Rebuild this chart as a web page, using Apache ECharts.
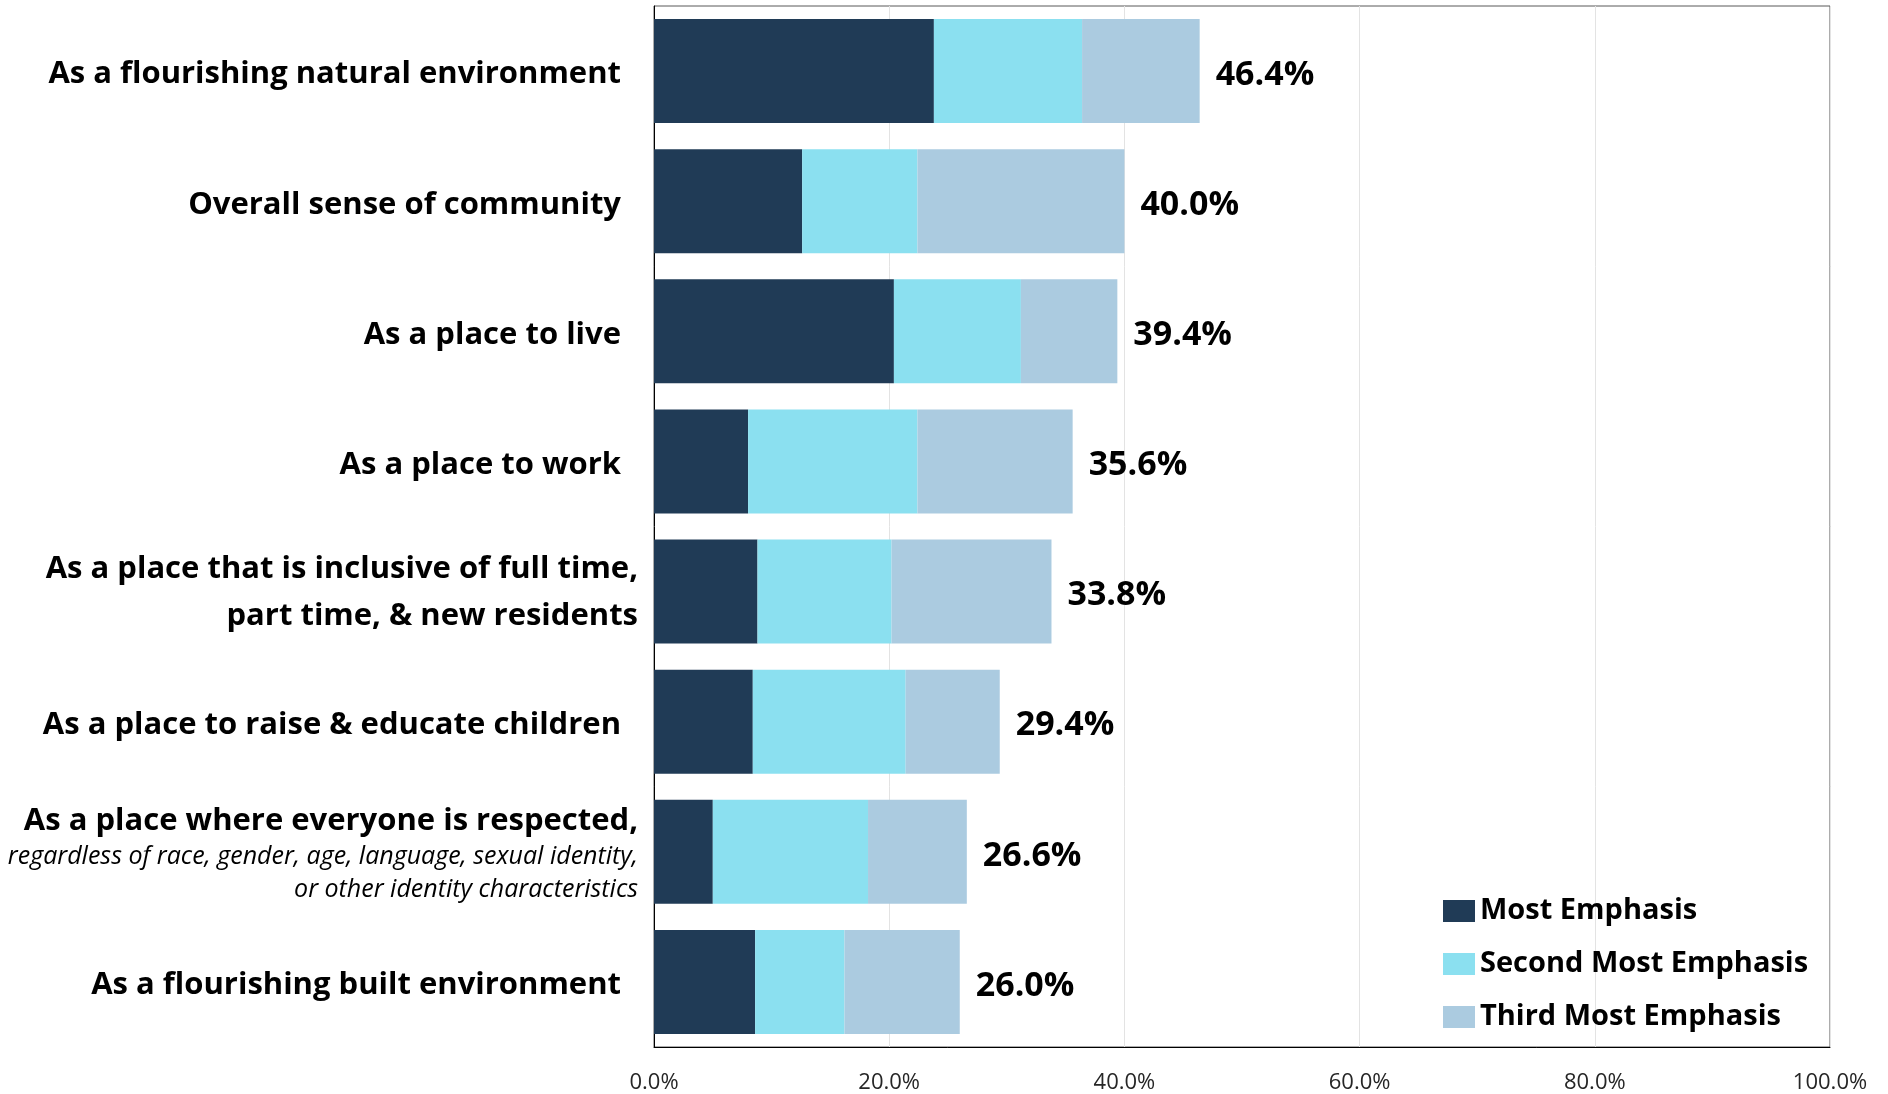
<!DOCTYPE html>
<html>
<head>
<meta charset="utf-8">
<title>Emphasis by priority area</title>
<script src="https://cdn.jsdelivr.net/npm/echarts@6/dist/echarts.min.js"></script>
<style>
  html, body { margin: 0; padding: 0; background: #ffffff; }
  #chart { width: 1888px; height: 1094px; }
</style>
</head>
<body>
<div id="chart"></div>
<script>
// Priority areas, top to bottom
const categories = [
  'As a flourishing natural environment',
  'Overall sense of community',
  'As a place to live',
  'As a place to work',
  'As a place that is inclusive of full time,\npart time, & new residents',
  'As a place to raise & educate children',
  'As a place where everyone is respected,',
  'As a flourishing built environment'
];
// Smaller italic note under a category heading ('' = none)
const categoryNotes = [
  '', '', '', '', '', '',
  'regardless of race, gender, age, language, sexual identity,\nor other identity characteristics',
  ''
];

const seriesNames = ['Most Emphasis', 'Second Most Emphasis', 'Third Most Emphasis'];

// Share of respondents (%)
const mostEmphasis   = [23.8, 12.6, 20.4,  8.0,  8.8,  8.4,  5.0, 8.6];
const secondEmphasis = [12.6,  9.8, 10.8, 14.4, 11.4, 13.0, 13.2, 7.6];
const thirdEmphasis  = [10.0, 17.6,  8.2, 13.2, 13.6,  8.0,  8.4, 9.8];

const xTicks = [0, 20, 40, 60, 80, 100];

const palette = ['#203B56', '#8BE0F0', '#ABCBE0'];
const FONT = '"Open Sans"';

function totalAt(i) {
  return mostEmphasis[i] + secondEmphasis[i] + thirdEmphasis[i];
}

function categoryLabel(value, index) {
  const lines = value.split('\n');
  const note = categoryNotes[index];
  if (lines.length === 1 && !note) {
    return '{one|' + value + '}';
  }
  if (note) {
    return lines.map(l => '{head|' + l + '}').join('\n') + '\n' +
      note.split('\n').map(l => '{note|' + l + '}').join('\n');
  }
  return lines.map(l => '{main|' + l + '}').join('\n');
}

const chart = echarts.init(document.getElementById('chart'), null, { renderer: 'canvas' });

const seriesData = [mostEmphasis, secondEmphasis, thirdEmphasis];

const series = seriesData.map((arr, s) => ({
  name: seriesNames[s],
  type: 'bar',
  stack: 'total',
  barCategoryGap: '20%',
  data: arr,
  itemStyle: { color: palette[s] },
  emphasis: { disabled: true },
  label: s === 2 ? {
    show: true,
    position: 'right',
    distance: 16,
    offset: [0, 4],
    formatter: p => totalAt(p.dataIndex).toFixed(1) + '%',
    fontFamily: FONT,
    fontWeight: 'bold',
    fontSize: 34,
    color: '#000000'
  } : { show: false }
}));

chart.setOption({
  backgroundColor: '#ffffff',
  animation: false,
  grid: {
    left: 654,
    right: 58,
    top: 6,
    bottom: 46,
    show: true,
    borderColor: '#595959',
    borderWidth: 1,
    backgroundColor: 'transparent'
  },
  legend: {
    orient: 'vertical',
    left: 1438,
    top: 891,
    itemWidth: 32,
    itemHeight: 22,
    itemGap: 23,
    icon: 'rect',
    data: seriesNames,
    textStyle: {
      fontFamily: FONT,
      fontWeight: 'bold',
      fontSize: 29,
      lineHeight: 30,
      color: '#000000'
    }
  },
  xAxis: {
    type: 'value',
    min: xTicks[0],
    max: xTicks[xTicks.length - 1],
    interval: xTicks[1] - xTicks[0],
    axisLine: { show: true, lineStyle: { color: '#000000', width: 1 } },
    axisTick: { show: false },
    splitLine: { show: true, lineStyle: { color: '#e3e3e3', width: 1 } },
    axisLabel: {
      margin: 25,
      fontFamily: FONT,
      fontSize: 22,
      color: '#262626',
      formatter: v => v.toFixed(1) + '%'
    }
  },
  yAxis: {
    type: 'category',
    inverse: true,
    data: categories,
    axisLine: { show: true, lineStyle: { color: '#000000', width: 1 } },
    axisTick: { show: false },
    splitLine: { show: false },
    axisLabel: {
      margin: 16,
      interval: 0,
      align: 'right',
      formatter: categoryLabel,
      rich: {
        one:  { fontFamily: FONT, fontWeight: 'bold', fontSize: 31, color: '#000', align: 'right', padding: [7, 17, 0, 0] },
        main: { fontFamily: FONT, fontWeight: 'bold', fontSize: 31, lineHeight: 47, color: '#000', align: 'right', padding: [2, 0, 0, 0] },
        head: { fontFamily: FONT, fontWeight: 'bold', fontSize: 31, lineHeight: 43, color: '#000', align: 'right', padding: [4, 0, 0, 0] },
        note: { fontFamily: FONT, fontStyle: 'italic', fontWeight: 'normal', fontSize: 25, lineHeight: 33, color: '#000', align: 'right' }
      }
    }
  },
  series: series
});
</script>
</body>
</html>
